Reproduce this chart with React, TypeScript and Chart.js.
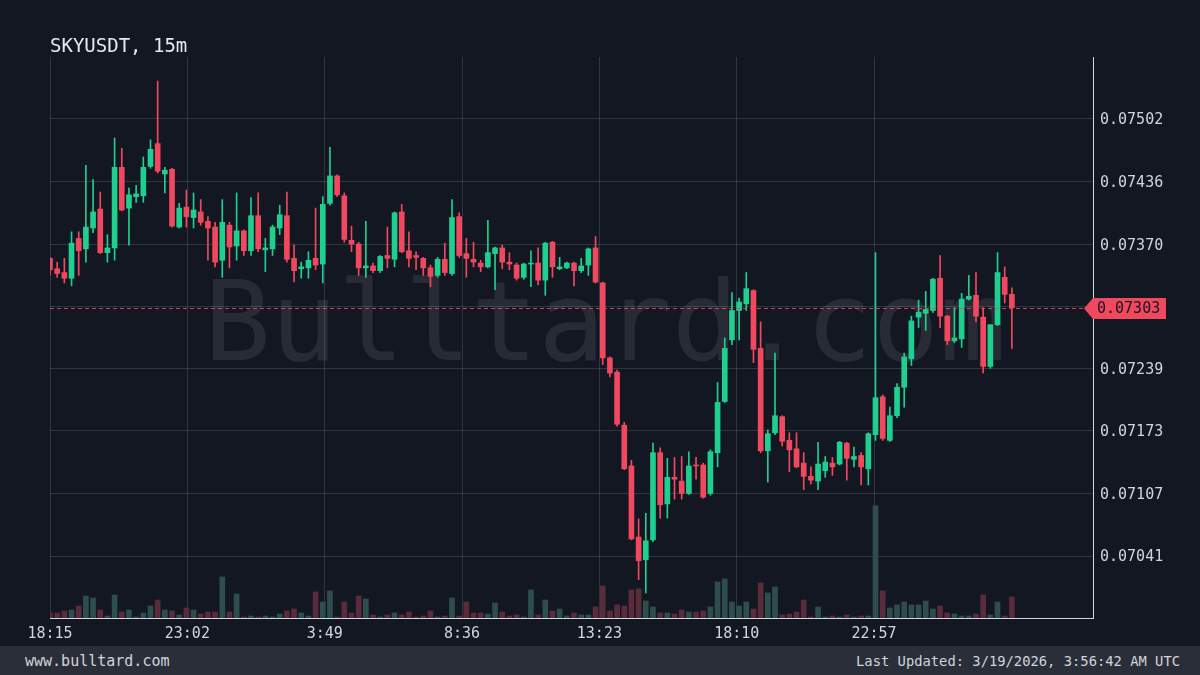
import { useEffect, useRef } from 'react';
import { Chart, registerables } from 'chart.js';

Chart.register(...registerables);

const chartTitle = 'SKYUSDT, 15m';
const watermarkText = 'Bulltard.com';
const footerLeft = 'www.bulltard.com';
const footerRight = 'Last Updated: 3/19/2026, 3:56:42 AM UTC';

const candleMinutes = 15;
const xTickLabels = ['18:15', '23:02', '3:49', '8:36', '13:23', '18:10', '22:57'];
const xTickMinutes = [0, 287, 574, 861, 1148, 1435, 1722];
const xSlots = 145.3;

const yMin = 0.069756;
const yMax = 0.075674;
const yTickValues = [0.07041, 0.07107, 0.07173, 0.07239, 0.07304, 0.0737, 0.07436, 0.07502];

const opens = [
  0.07355, 0.07344, 0.0734, 0.07334, 0.07376, 0.07365, 0.07387, 0.07407, 0.07361, 0.07366,
  0.07451, 0.07408, 0.0742, 0.07421, 0.07452, 0.07476, 0.07444, 0.07449, 0.07388, 0.07409,
  0.07398, 0.07404, 0.07394, 0.07388, 0.07353, 0.0739, 0.07368, 0.07384, 0.07363, 0.074,
  0.07364, 0.07365, 0.07387, 0.074, 0.07355, 0.07344, 0.07345, 0.07355, 0.07349, 0.07413,
  0.07442, 0.07421, 0.07374, 0.0737, 0.07345, 0.07347, 0.07342, 0.07358, 0.07354, 0.07404,
  0.07363, 0.07358, 0.07355, 0.07345, 0.07337, 0.07354, 0.07339, 0.07399, 0.0736, 0.07354,
  0.0735, 0.07346, 0.0736, 0.07366, 0.07351, 0.07348, 0.07335, 0.07349, 0.0735, 0.07332,
  0.07372, 0.07344, 0.07345, 0.0735, 0.07342, 0.07348, 0.07366, 0.07329, 0.0725, 0.07235,
  0.07179, 0.07136, 0.07061, 0.07037, 0.07058, 0.0715, 0.07096, 0.07124, 0.0712, 0.07107,
  0.07137, 0.07137, 0.07107, 0.0715, 0.07204, 0.07269, 0.073, 0.07307, 0.07321, 0.0726,
  0.07152, 0.07171, 0.07188, 0.07163, 0.07154, 0.07139, 0.07125, 0.0712, 0.07131, 0.07139,
  0.07138, 0.0716, 0.07143, 0.07147, 0.07133, 0.07169, 0.07209, 0.07163, 0.07189, 0.07219,
  0.07249, 0.07293, 0.07297, 0.073, 0.07334, 0.07294, 0.07268, 0.0727, 0.07312, 0.07316,
  0.07293, 0.07241, 0.07285, 0.07335, 0.07317,
];

const highs = [
  0.07356, 0.07351, 0.07355, 0.07383, 0.07383, 0.07453, 0.07438, 0.07425, 0.0738, 0.07482,
  0.07471, 0.07429, 0.07432, 0.07462, 0.0748, 0.07542, 0.07451, 0.0745, 0.07413, 0.07427,
  0.07424, 0.07417, 0.07399, 0.07393, 0.07417, 0.07393, 0.07424, 0.07385, 0.07419, 0.07424,
  0.07376, 0.0739, 0.07411, 0.07425, 0.07369, 0.07351, 0.07362, 0.07408, 0.0742, 0.07472,
  0.07443, 0.07424, 0.07389, 0.07372, 0.07394, 0.0735, 0.07358, 0.07388, 0.07404, 0.07412,
  0.07383, 0.07362, 0.07356, 0.07348, 0.07356, 0.07371, 0.07417, 0.07403, 0.07376, 0.07372,
  0.07353, 0.07395, 0.07367, 0.07369, 0.07361, 0.0735, 0.0735, 0.07363, 0.07366, 0.07372,
  0.07373, 0.07356, 0.07351, 0.07351, 0.07355, 0.07366, 0.07378, 0.0733, 0.07251, 0.07237,
  0.07182, 0.07142, 0.0708, 0.07086, 0.0716, 0.07155, 0.07144, 0.07145, 0.07146, 0.07151,
  0.07145, 0.07139, 0.07153, 0.07224, 0.07271, 0.07319, 0.07313, 0.0734, 0.07322, 0.07288,
  0.07174, 0.07255, 0.07189, 0.07171, 0.07171, 0.0715, 0.07135, 0.07161, 0.07146, 0.07145,
  0.07162, 0.07161, 0.07156, 0.0715, 0.07171, 0.07361, 0.07211, 0.07198, 0.07223, 0.07255,
  0.07294, 0.07311, 0.0732, 0.07334, 0.07358, 0.07295, 0.07303, 0.07318, 0.07337, 0.0734,
  0.07303, 0.07285, 0.07361, 0.07346, 0.07324,
];

const lows = [
  0.07337, 0.07335, 0.07329, 0.07326, 0.07337, 0.07351, 0.07382, 0.0736, 0.07351, 0.07353,
  0.07405, 0.07369, 0.07414, 0.07414, 0.0745, 0.07445, 0.07424, 0.07388, 0.07387, 0.07388,
  0.07387, 0.0739, 0.07353, 0.07346, 0.07335, 0.07345, 0.07353, 0.07358, 0.07358, 0.07362,
  0.07341, 0.07358, 0.0738, 0.07351, 0.0733, 0.07334, 0.07334, 0.07343, 0.07329, 0.07411,
  0.0742, 0.07372, 0.07362, 0.07337, 0.07335, 0.0734, 0.0734, 0.07345, 0.07346, 0.07361,
  0.07346, 0.07343, 0.07337, 0.07325, 0.07335, 0.07337, 0.07337, 0.07356, 0.07335, 0.07346,
  0.07341, 0.07345, 0.07322, 0.07344, 0.07343, 0.07332, 0.07333, 0.07325, 0.07327, 0.07316,
  0.07335, 0.07343, 0.07344, 0.07326, 0.0734, 0.07337, 0.07329, 0.07243, 0.0723, 0.07178,
  0.07132, 0.07058, 0.07016, 0.07002, 0.07056, 0.07081, 0.07081, 0.07101, 0.07101, 0.07106,
  0.07122, 0.07102, 0.07105, 0.07135, 0.07203, 0.07264, 0.07269, 0.073, 0.07245, 0.0715,
  0.07119, 0.07169, 0.07157, 0.0713, 0.07134, 0.07111, 0.07117, 0.07111, 0.07124, 0.07126,
  0.07137, 0.07121, 0.07135, 0.07116, 0.07116, 0.07163, 0.07163, 0.07162, 0.07187, 0.07198,
  0.07242, 0.07282, 0.07279, 0.07298, 0.07282, 0.07264, 0.07266, 0.07261, 0.07311, 0.07288,
  0.07234, 0.07239, 0.07284, 0.07308, 0.0726,
];

const closes = [
  0.07343, 0.07339, 0.07334, 0.07371, 0.07363, 0.07388, 0.07404, 0.07361, 0.07366, 0.07451,
  0.07406, 0.07422, 0.07423, 0.07451, 0.0747, 0.07447, 0.07448, 0.07389, 0.07408, 0.07399,
  0.07406, 0.07393, 0.07387, 0.07351, 0.07393, 0.07367, 0.07384, 0.07363, 0.074, 0.07365,
  0.07366, 0.07388, 0.07401, 0.07354, 0.07342, 0.07346, 0.07353, 0.07348, 0.07412, 0.07442,
  0.07422, 0.07375, 0.0737, 0.07345, 0.07347, 0.07342, 0.07357, 0.07355, 0.07403, 0.07362,
  0.07355, 0.07356, 0.07345, 0.07336, 0.07354, 0.0734, 0.07398, 0.07358, 0.07355, 0.07351,
  0.07346, 0.07361, 0.07366, 0.07351, 0.07349, 0.07334, 0.07349, 0.0735, 0.07332, 0.07371,
  0.07346, 0.07346, 0.0735, 0.07342, 0.07347, 0.07365, 0.0733, 0.0725, 0.07234, 0.0718,
  0.07133, 0.07059, 0.07036, 0.07057, 0.0715, 0.07095, 0.07124, 0.07122, 0.07107, 0.07136,
  0.07136, 0.07103, 0.07151, 0.07203, 0.0726, 0.073, 0.07309, 0.07323, 0.07259, 0.07152,
  0.0717, 0.07189, 0.07162, 0.07153, 0.07135, 0.07125, 0.07121, 0.07138, 0.0714, 0.07135,
  0.07161, 0.07144, 0.07146, 0.07135, 0.0717, 0.07208, 0.07165, 0.07189, 0.07219, 0.07251,
  0.07289, 0.07298, 0.07301, 0.07333, 0.07294, 0.07268, 0.07271, 0.07312, 0.07315, 0.07294,
  0.07241, 0.07285, 0.0734, 0.07317, 0.07303,
];

// relative volume (arbitrary units)
const volumes = [
  5, 5, 7, 8, 12, 22, 20, 8, 2, 23,
  6, 8, 1, 5, 12, 18, 8, 7, 3, 10,
  8, 4, 6, 6, 41, 6, 24, 1, 2, 1,
  2, 1, 4, 7, 9, 5, 2, 26, 16, 27,
  1, 16, 5, 22, 19, 3, 1, 3, 5, 3,
  6, 1, 2, 7, 1, 2, 20, 2, 16, 5,
  5, 4, 15, 6, 2, 3, 1, 28, 3, 18,
  7, 9, 2, 5, 3, 3, 11, 32, 7, 13,
  12, 28, 29, 17, 11, 5, 5, 4, 8, 6,
  6, 7, 11, 36, 39, 16, 12, 16, 9, 35,
  25, 31, 3, 4, 6, 18, 1, 11, 1, 2,
  1, 3, 1, 2, 2, 112, 27, 10, 13, 16,
  13, 13, 17, 9, 12, 5, 4, 2, 2, 4,
  23, 3, 16, 2, 21,
];
const volumeAxisMax = 560;

const BG = '#131722';
const UP = '#1fcf90';
const DOWN = '#f0485e';
const UP_VOL = '#2d4e4c';
const DOWN_VOL = '#5a2b3b';
const GRID = 'rgba(255,255,255,0.13)';
const TEXT = '#d1d4dc';
const MONO = '"DejaVu Sans Mono", monospace';

export default function App() {
  const canvasRef = useRef<HTMLCanvasElement | null>(null);

  useEffect(() => {
    document.body.style.margin = '0';
    document.body.style.background = BG;
    const canvas = canvasRef.current;
    if (!canvas) return;

    const isUp = opens.map((o, i) => closes[i] >= o);
    const lastClose = closes[closes.length - 1];

    const watermark = {
      id: 'watermark',
      beforeDatasetsDraw(chart: any) {
        const ctx = chart.ctx;
        ctx.save();
        ctx.font = `111px ${MONO}`;
        ctx.fillStyle = 'rgba(255,255,255,0.09)';
        ctx.textAlign = 'center';
        ctx.textBaseline = 'alphabetic';
        ctx.fillText(watermarkText, chart.width / 2 + 5, 360);
        ctx.restore();
      },
    };

    const priceLine = {
      id: 'priceLine',
      afterDatasetsDraw(chart: any) {
        const ctx = chart.ctx;
        const y = Math.round(chart.scales.y.getPixelForValue(lastClose)) + 0.5;
        const a = chart.chartArea;
        ctx.save();
        ctx.strokeStyle = 'rgba(240,72,94,0.85)';
        ctx.lineWidth = 1;
        ctx.setLineDash([4, 3]);
        ctx.beginPath();
        ctx.moveTo(a.left, y);
        ctx.lineTo(a.right, y);
        ctx.stroke();
        ctx.restore();
      },
      afterDraw(chart: any) {
        const ctx = chart.ctx;
        const y = Math.round(chart.scales.y.getPixelForValue(lastClose)) + 0.5;
        const right = chart.chartArea.right;
        ctx.save();
        ctx.fillStyle = DOWN;
        ctx.beginPath();
        ctx.moveTo(right - 9, y);
        ctx.lineTo(right, y - 10.5);
        ctx.lineTo(right + 73, y - 10.5);
        ctx.lineTo(right + 73, y + 10.5);
        ctx.lineTo(right, y + 10.5);
        ctx.closePath();
        ctx.fill();
        ctx.fillStyle = '#131722';
        ctx.font = `15px ${MONO}`;
        ctx.textAlign = 'left';
        ctx.textBaseline = 'middle';
        ctx.fillText(lastClose.toFixed(5), right + 4, y + 1);
        ctx.restore();
      },
    };

    const chart = new Chart(canvas, {
      type: 'bar',
      data: {
        datasets: [
          {
            label: 'body',
            data: opens.map((o, i) => ({ x: i, y: [o, closes[i]] })) as any,
            backgroundColor: isUp.map((u) => (u ? UP : DOWN)),
            barThickness: 5,
            minBarLength: 1,
            grouped: false,
            borderWidth: 0,
            yAxisID: 'y',
            order: 0,
          },
          {
            label: 'wick',
            data: lows.map((l, i) => ({ x: i, y: [l, highs[i]] })) as any,
            backgroundColor: isUp.map((u) => (u ? UP : DOWN)),
            barThickness: 1,
            grouped: false,
            borderWidth: 0,
            yAxisID: 'y',
            order: 1,
          },
          {
            label: 'volume',
            data: volumes.map((v, i) => ({ x: i, y: v })) as any,
            backgroundColor: isUp.map((u) => (u ? UP_VOL : DOWN_VOL)),
            barThickness: 5,
            grouped: false,
            borderWidth: 0,
            yAxisID: 'yv',
            order: 2,
          },
        ],
      },
      options: {
        animation: false,
        responsive: false,
        maintainAspectRatio: false,
        layout: { padding: { left: 50, top: 57, right: 0, bottom: 0 } },
        plugins: { legend: { display: false }, tooltip: { enabled: false } },
        scales: {
          x: {
            type: 'linear',
            min: 0,
            max: xSlots,
            offset: false,
            grid: { color: GRID, drawTicks: false, offset: false },
            border: { display: true, color: TEXT, width: 1 },
            afterBuildTicks: (scale: any) => {
              scale.ticks = xTickMinutes.map((m) => ({ value: m / candleMinutes }));
            },
            afterFit: (scale: any) => {
              scale.height = 28;
            },
            ticks: {
              autoSkip: false,
              maxRotation: 0,
              padding: 7,
              color: TEXT,
              font: { family: MONO, size: 15 },
              callback: (_v: any, i: number) => xTickLabels[i],
            },
          },
          y: {
            type: 'linear',
            position: 'right',
            min: yMin,
            max: yMax,
            grid: { color: GRID, drawTicks: false },
            border: { display: true, color: TEXT, width: 1 },
            afterBuildTicks: (scale: any) => {
              scale.ticks = yTickValues.map((v) => ({ value: v }));
            },
            afterFit: (scale: any) => {
              scale.width = 107;
            },
            ticks: {
              padding: 7,
              labelOffset: 1.5,
              color: TEXT,
              font: { family: MONO, size: 15 },
              callback: (v: any) => Number(v).toFixed(5),
            },
          },
          yv: {
            type: 'linear',
            display: false,
            min: 0,
            max: volumeAxisMax,
          },
        },
      },
      plugins: [watermark, priceLine],
    } as any);

    return () => chart.destroy();
  }, []);

  return (
    <div style={{ position: 'relative', width: 1200, height: 675, background: BG, overflow: 'hidden' }}>
      <canvas ref={canvasRef} width={1200} height={646} style={{ position: 'absolute', left: 0, top: 0, width: 1200, height: 646 }} />
      <div
        style={{
          position: 'absolute',
          left: 50,
          top: 34,
          fontFamily: MONO,
          fontSize: 19,
          lineHeight: '22px',
          color: '#e6e8ee',
          whiteSpace: 'nowrap',
        }}
      >
        {chartTitle}
      </div>
      <div
        style={{
          position: 'absolute',
          left: 0,
          top: 646,
          width: 1200,
          height: 29,
          background: '#2a2e39',
          color: TEXT,
          fontFamily: MONO,
          display: 'flex',
          alignItems: 'center',
          justifyContent: 'space-between',
          boxSizing: 'border-box',
          padding: '0 20px 0 25px',
          whiteSpace: 'nowrap',
        }}
      >
        <span style={{ fontSize: 15 }}>{footerLeft}</span>
        <span style={{ fontSize: 13.8 }}>{footerRight}</span>
      </div>
    </div>
  );
}
